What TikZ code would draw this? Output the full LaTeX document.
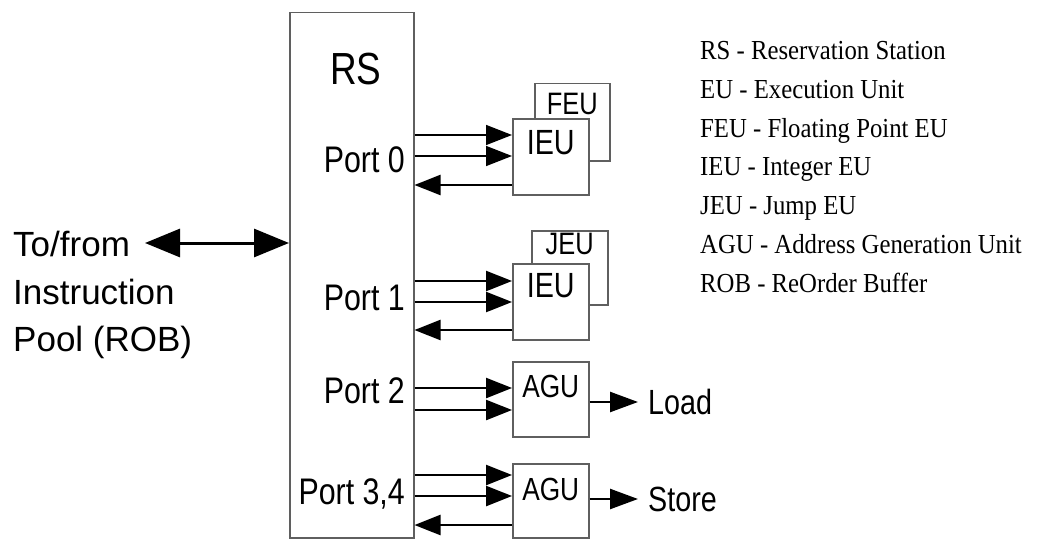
\documentclass[tikz,border=0pt]{standalone}
\usepackage{fontspec}
\setmainfont{Liberation Serif}
\newfontfamily\diagsans{Liberation Sans}
\newfontfamily\condsans[FakeStretch=0.82]{Liberation Sans}
\newfontfamily\legendserif[FakeStretch=0.9]{Liberation Serif}
\usetikzlibrary{arrows.meta, positioning, calc}
\definecolor{bordergray}{RGB}{95,95,95}
\tikzset{
  rsbox/.style={
    draw=bordergray,
    line width=1.5pt,
    anchor=north west,
    inner sep=0pt,
    minimum width=124pt,
    minimum height=525pt
  },
  eubox/.style={
    draw=bordergray,
    line width=1.5pt,
    fill=white,
    anchor=north west,
    inner sep=0pt,
    minimum width=76pt,
    minimum height=76pt
  },
  eutext/.style={anchor=north, inner sep=0pt},
  portlabel/.style={anchor=east, inner sep=0pt, font=\condsans\fontsize{37pt}{40pt}\selectfont},
  fwd/.style={-{Triangle[length=26pt,width=20pt]}, line width=2.5pt},
  fwdthin/.style={-{Triangle[length=26pt,width=20pt]}, line width=1.5pt},
  outarrow/.style={-{Triangle[length=28pt,width=20pt]}, line width=2.5pt},
  bigarrow/.style={{Triangle[length=35pt,width=28pt]}-{Triangle[length=35pt,width=28pt]}, line width=3pt}
}
\begin{document}
\begin{tikzpicture}[x=1pt, y=-1pt]
\useasboundingbox (0,0) rectangle (1037,543);

% reservation station
\node[rsbox, label={[eutext, xshift=4pt, yshift=-41pt, font=\condsans\fontsize{45pt}{48pt}\selectfont]north:RS}] (rs) at (289,12) {};

\node[portlabel] (port0) at (405,160) {Port 0};
\node[portlabel] (port1) at (405,298) {Port 1};
\node[portlabel] (port2) at (405,391) {Port 2};
\node[portlabel] (port34) at (405,494) {Port 3,4};

% execution units
\node[eubox, minimum width=75pt, minimum height=77pt,
  label={[eutext, yshift=-10pt, font=\condsans\fontsize{31pt}{34pt}\selectfont]north:FEU}] (feu) at (534,83) {};
\node[eubox, label={[eutext, yshift=-12pt, font=\condsans\fontsize{35pt}{38pt}\selectfont]north:IEU}] (ieu0) at (512,118) {};

\node[eubox, minimum height=74pt,
  label={[eutext, yshift=-3pt, font=\condsans\fontsize{31pt}{34pt}\selectfont]north:JEU}] (jeu) at (531,230) {};
\node[eubox, label={[eutext, yshift=-10pt, font=\condsans\fontsize{35pt}{38pt}\selectfont]north:IEU}] (ieu1) at (512,263) {};

\node[eubox, minimum height=75pt,
  label={[eutext, yshift=-14pt, font=\condsans\fontsize{32pt}{35pt}\selectfont]north:AGU}] (agu1) at (512,361) {};
\node[eubox, minimum height=74pt,
  label={[eutext, yshift=-15pt, font=\condsans\fontsize{32pt}{35pt}\selectfont]north:AGU}] (agu2) at (512,463) {};

% outputs
\node[anchor=west, inner sep=0pt, font=\condsans\fontsize{35pt}{38pt}\selectfont] (load) at (648,402) {Load};
\node[anchor=west, inner sep=0pt, font=\condsans\fontsize{35pt}{38pt}\selectfont] (store) at (648,499) {Store};

% instruction pool
\node[anchor=north west, inner sep=0pt, align=left, font=\diagsans\fontsize{35pt}{47.5pt}\selectfont] (pool) at (13,231)
{To/from\\Instruction\\Pool (ROB)};
\coordinate (pooltip) at (145,243);

% legend
\node[anchor=north west, inner sep=0pt, align=left, font=\legendserif\fontsize{27.5pt}{38.8pt}\selectfont] (legend) at (700,41)
{RS - Reservation Station\\EU - Execution Unit\\FEU - Floating Point EU\\IEU - Integer EU\\JEU - Jump EU\\AGU - Address Generation Unit\\ROB - ReOrder Buffer};

% port 0
\draw[fwdthin] ($(rs.east |- ieu0.north)+(0,17)$) -- ($(ieu0.north west)+(0,17)$);
\draw[fwdthin] ($(rs.east |- ieu0.north)+(0,38)$) -- ($(ieu0.north west)+(0,38)$);
\draw[fwd] ($(ieu0.north west)+(0,67)$) -- ($(rs.east |- ieu0.north)+(0,67)$);
% port 1
\draw[fwd] ($(rs.east |- ieu1.north)+(0,18)$) -- ($(ieu1.north west)+(0,18)$);
\draw[fwd] ($(rs.east |- ieu1.north)+(0,39)$) -- ($(ieu1.north west)+(0,39)$);
\draw[fwd] ($(ieu1.north west)+(0,67)$) -- ($(rs.east |- ieu1.north)+(0,67)$);
% port 2
\draw[fwd] ($(rs.east |- agu1.north)+(0,27)$) -- ($(agu1.north west)+(0,27)$);
\draw[fwd] ($(rs.east |- agu1.north)+(0,49)$) -- ($(agu1.north west)+(0,49)$);
% port 3,4
\draw[fwd] ($(rs.east |- agu2.north)+(0,12)$) -- ($(agu2.north west)+(0,12)$);
\draw[fwd] ($(rs.east |- agu2.north)+(0,33)$) -- ($(agu2.north west)+(0,33)$);
\draw[fwd] ($(agu2.north west)+(0,62)$) -- ($(rs.east |- agu2.north)+(0,62)$);

\draw[outarrow] (agu1.east |- load.west) -- ([xshift=-10pt]load.west);
\draw[outarrow] (agu2.east |- store.west) -- ([xshift=-10pt]store.west);
\draw[bigarrow] (pooltip) -- (pooltip -| rs.west);
\end{tikzpicture}
\end{document}
